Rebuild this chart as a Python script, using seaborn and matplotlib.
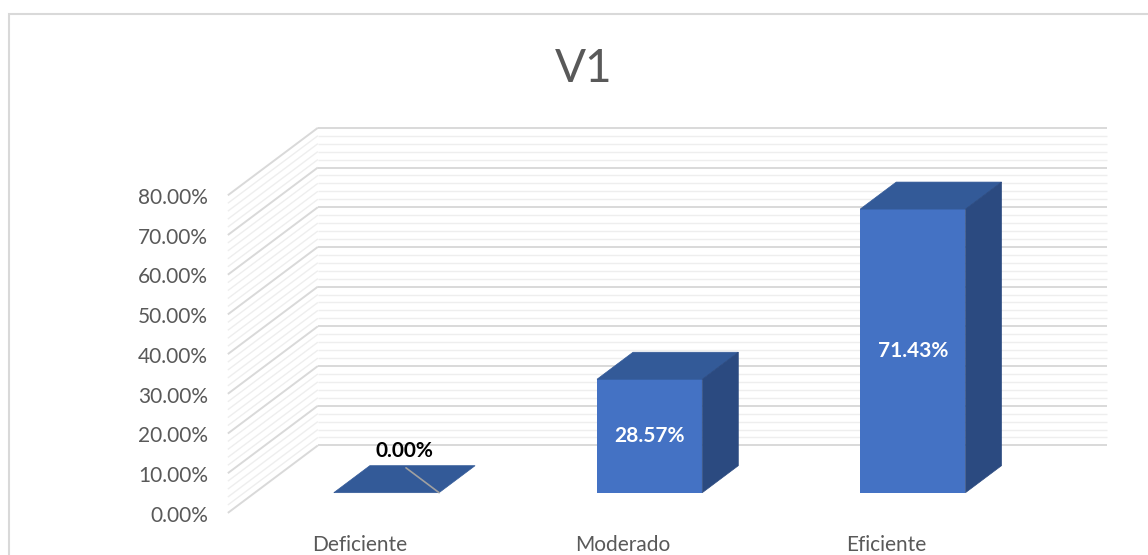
import matplotlib
matplotlib.use("Agg")
import matplotlib.pyplot as plt
from matplotlib.patches import Polygon, Rectangle
import numpy as np
import pandas as pd
import seaborn as sns

# Datos
categorias = ["Deficiente", "Moderado", "Eficiente"]
porcentajes = [0.00, 28.57, 71.43]
etiquetas = ["0.00%", "28.57%", "71.43%"]
ticks_y = [0, 10, 20, 30, 40, 50, 60, 70, 80]
titulo = "V1"

# Colores estilo Excel
frente = "#4472c4"
arriba = "#335a98"
lado = "#2b4a80"
gris_texto = "#595959"
gris_mayor = "#d9d9d9"
gris_menor = "#eeeeee"

# Profundidad 3D en unidades de datos (categorías, porcentaje)
prof_x = 0.342
prof_y = 17.0
pos_barra = 0.3      # plano frontal de las barras dentro de la profundidad
fondo_barra = 0.4    # profundidad de cada barra

sns.set_theme(style="white")
plt.rcParams["font.family"] = ["Lato", "DejaVu Sans"]

fig = plt.figure(figsize=(11.48, 5.55), dpi=100)
ax = fig.add_axes([0.2220, 0.1123, 0.6878, 0.5723])

df = pd.DataFrame({"categoria": categorias, "pct": porcentajes})
sns.barplot(data=df, x="categoria", y="pct", color=frente, width=0.4,
            saturation=1, ax=ax, zorder=5, edgecolor="none")
ax.set_xlim(-0.5, 2.5)
ax.set_ylim(0, 80)
ax.axis("off")

x0, x1 = ax.get_xlim()
atras_x, atras_y = (1 - pos_barra) * prof_x, (1 - pos_barra) * prof_y
delante_x, delante_y = -pos_barra * prof_x, -pos_barra * prof_y

# Paredes (fondo y lateral) con líneas principales y secundarias
for v in np.arange(0, 80.1, 2):
    mayor = v % 10 == 0
    c = gris_mayor if mayor else gris_menor
    lw = 1.4 if mayor else 1.0
    z = 2 if mayor else 1
    ax.plot([x0 + atras_x, x1 + atras_x], [v + atras_y] * 2, color=c, lw=lw,
            clip_on=False, zorder=z, solid_capstyle="butt")
    ax.plot([x0 + delante_x, x0 + atras_x], [v + delante_y, v + atras_y],
            color=c, lw=lw, clip_on=False, zorder=z, solid_capstyle="butt")

# Caras superior y lateral de cada barra
dxb, dyb = fondo_barra * prof_x, fondo_barra * prof_y
for p, et in zip(ax.patches, etiquetas):
    x, w, h = p.get_x(), p.get_width(), p.get_height()
    sup = [(x, h), (x + w, h), (x + w + dxb, h + dyb), (x + dxb, h + dyb)]
    ax.add_patch(Polygon(sup, closed=True, facecolor=arriba, edgecolor=arriba,
                         lw=0.5, zorder=6, clip_on=False))
    if h > 0:
        lat = [(x + w, 0), (x + w + dxb, dyb), (x + w + dxb, h + dyb), (x + w, h)]
        ax.add_patch(Polygon(lat, closed=True, facecolor=lado, edgecolor=lado,
                             lw=0.5, zorder=6, clip_on=False))
        ax.text(x + w / 2, h / 2, et, ha="center", va="center", color="white",
                fontsize=15, fontweight="bold", zorder=10)
    else:
        ax.plot([x + w, x + w - 0.92 * dxb], [0, 0.92 * dyb], color="#a0a0a0",
                lw=1.2, zorder=7, clip_on=False)
        ax.annotate(et, (x + w / 2 + dxb / 2, dyb / 2), xytext=(0, 20),
                    textcoords="offset points", ha="center", va="center",
                    color="black", fontsize=15, fontweight="bold", zorder=10)

# Etiquetas del eje Y en el plano frontal
for v in ticks_y:
    ax.text(x0 + delante_x - 0.076, v + delante_y - 0.7, f"{v:.2f}%",
            ha="right", va="center", color=gris_texto, fontsize=15)

# Etiquetas de categorías
for i, cat in enumerate(categorias):
    ax.text(i + delante_x, delante_y - 8.2, cat, ha="center", va="center",
            color=gris_texto, fontsize=15)

# Título y borde del gráfico
fig.text(584 / 1148, 1 - 68.5 / 555, titulo, ha="center", va="center",
         fontsize=33, fontweight="normal", color=gris_texto)
fig.add_artist(Rectangle((8.5 / 1148, -0.1), 1.2, (555 - 14) / 555 + 0.1,
                         transform=fig.transFigure, fill=False,
                         edgecolor=gris_mayor, lw=1.5))

fig.savefig("out.png", dpi=100, facecolor="white")
